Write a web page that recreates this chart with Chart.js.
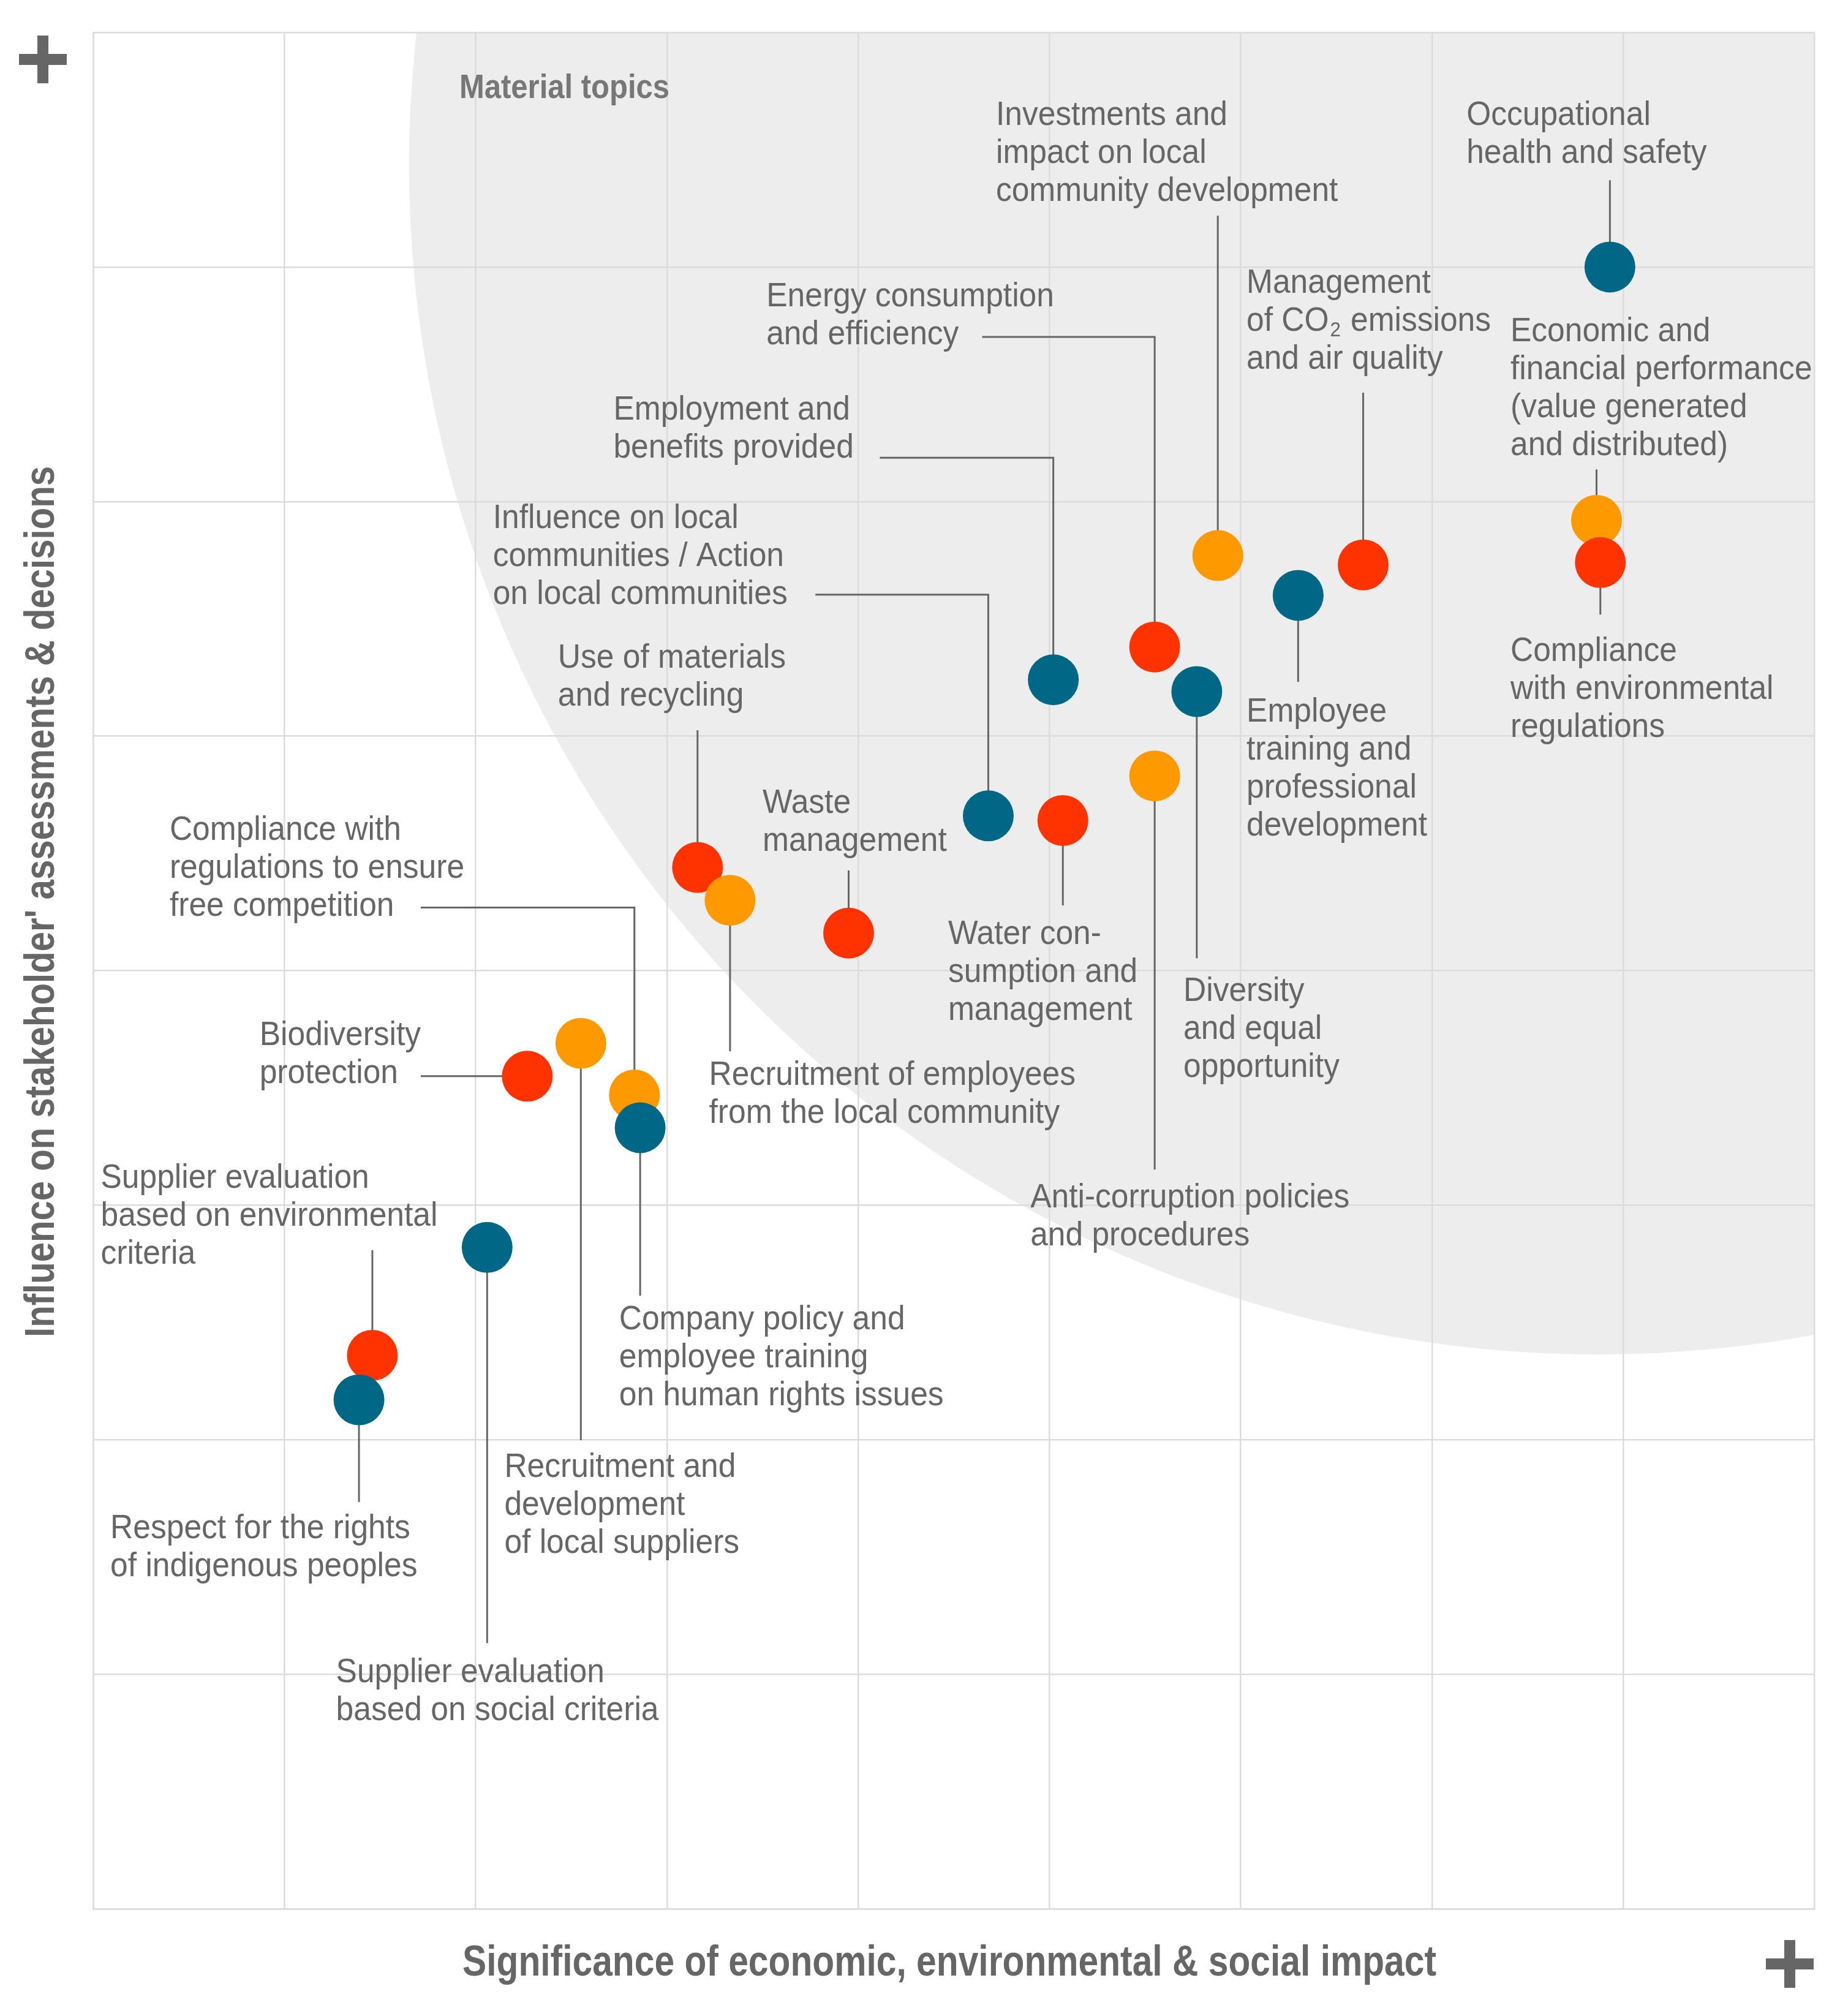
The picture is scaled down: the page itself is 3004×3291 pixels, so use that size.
<!DOCTYPE html>
<html>
<head>
<meta charset="utf-8">
<title>Material topics</title>
<script src="https://cdn.jsdelivr.net/npm/chart.js@4.4.1/dist/chart.umd.min.js"></script>
<style>
  html, body { margin: 0; padding: 0; background: #fff; }
  #wrap { width: 3004px; height: 3291px; }
</style>
</head>
<body>
<div id="wrap"><canvas id="matrix" width="3004" height="3291"></canvas></div>
<script>
// topics, in drawing order (later ones sit on top)
var topics = [
    "Occupational health and safety",
    "Economic and financial performance (value generated and distributed)",
    "Compliance with environmental regulations",
    "Management of CO₂ emissions and air quality",
    "Employee training and professional development",
    "Investments and impact on local community development",
    "Energy consumption and efficiency",
    "Diversity and equal opportunity",
    "Employment and benefits provided",
    "Anti-corruption policies and procedures",
    "Water consumption and management",
    "Influence on local communities / Action on local communities",
    "Waste management",
    "Use of materials and recycling",
    "Recruitment of employees from the local community",
    "Compliance with regulations to ensure free competition",
    "Company policy and employee training on human rights issues",
    "Recruitment and development of local suppliers",
    "Biodiversity protection",
    "Supplier evaluation based on social criteria",
    "Supplier evaluation based on environmental criteria",
    "Respect for the rights of indigenous peoples"
];
// significance of economic, environmental & social impact
var impact = [7.93, 7.86, 7.88, 6.64, 6.30, 5.88, 5.55, 5.77, 5.02, 5.55, 5.07,
              4.68, 3.95, 3.16, 3.33, 2.83, 2.86, 2.55, 2.27, 2.06, 1.46, 1.39];
// influence on stakeholder assessments & decisions
var influence = [7.00, 5.92, 5.74, 5.73, 5.60, 5.77, 5.38, 5.19, 5.24, 4.83, 4.64,
                 4.66, 4.16, 4.44, 4.30, 3.47, 3.33, 3.69, 3.55, 2.82, 2.36, 2.17];
var group = ["social", "economic", "environmental", "environmental", "social", "economic",
             "environmental", "social", "social", "economic", "environmental", "social",
             "environmental", "environmental", "economic", "economic", "social", "economic",
             "environmental", "social", "environmental", "social"];
var labelLines = [
    ["Occupational", "health and safety"],
    ["Economic and", "financial performance", "(value generated", "and distributed)"],
    ["Compliance", "with environmental", "regulations"],
    ["Management", "of CO₂ emissions", "and air quality"],
    ["Employee", "training and", "professional", "development"],
    ["Investments and", "impact on local", "community development"],
    ["Energy consumption", "and efficiency"],
    ["Diversity", "and equal", "opportunity"],
    ["Employment and", "benefits provided"],
    ["Anti-corruption policies", "and procedures"],
    ["Water con-", "sumption and", "management"],
    ["Influence on local", "communities / Action", "on local communities"],
    ["Waste", "management"],
    ["Use of materials", "and recycling"],
    ["Recruitment of employees", "from the local community"],
    ["Compliance with", "regulations to ensure", "free competition"],
    ["Company policy and", "employee training", "on human rights issues"],
    ["Recruitment and", "development", "of local suppliers"],
    ["Biodiversity", "protection"],
    ["Supplier evaluation", "based on social criteria"],
    ["Supplier evaluation", "based on environmental", "criteria"],
    ["Respect for the rights", "of indigenous peoples"]
];
var xTitle = "Significance of economic, environmental & social impact";
var yTitle = "Influence on stakeholder' assessments & decisions";
var zoneTitle = "Material topics";

// label layout, in axis units: first-line baseline of each label
var labelX = [7.18, 7.41, 7.41, 6.03, 6.03, 4.72, 3.52, 5.70, 2.72, 4.90, 4.47,
              2.09, 3.50, 2.43, 3.22, 0.40, 2.75, 2.15, 0.87, 1.27, 0.04, 0.09];
var labelY = [7.605, 6.683, 5.320, 6.890, 5.061, 7.605, 6.832, 3.870, 6.349, 2.990, 4.113,
              5.888, 4.672, 5.291, 3.513, 4.557, 2.471, 1.841, 3.682, 0.966, 3.074, 1.581];
// leader lines: vertical run ends at leaderY, optional horizontal run starts at leaderX
var leaderY = [7.370, 6.137, 5.518, 6.464, 5.231, 7.219, 6.702, 4.053, 6.187, 3.152, 4.278,
               5.603, 4.427, 5.025, 3.656, 4.269, 2.614, 1.998, 3.55, 1.133, 2.808, 1.734];
var leaderX = [null, null, null, null, null, null, 4.648, null, 4.113, null, null,
               3.776, null, null, null, 1.713, null, null, 1.713, null, null, null];

var zoneCenter = [7.868, 7.433];
var zoneRadius = 6.216; // in impact units

var groupColors = { social: "#006786", economic: "#ff9900", environmental: "#ff3300" };
var textColor = "#666666";
var labelFont = "56px 'Liberation Sans', Arial, sans-serif";
var subFont = "34px 'Liberation Sans', Arial, sans-serif";
var labelStretch = 0.92;
var lineGap = 62;

function drawLabelLine(ctx, text, x, y) {
    ctx.save();
    ctx.translate(x, y);
    ctx.scale(labelStretch, 1);
    var parts = text.split("₂");
    var cx = 0;
    for (var i = 0; i < parts.length; i++) {
        ctx.font = labelFont;
        ctx.fillText(parts[i], cx, 0);
        cx += ctx.measureText(parts[i]).width;
        if (i < parts.length - 1) {
            ctx.font = subFont;
            ctx.fillText("2", cx + 2, 9);
            cx += ctx.measureText("2").width + 4;
        }
    }
    ctx.restore();
}

function drawSquished(ctx, text, font, targetWidth) {
    ctx.font = font;
    var w = ctx.measureText(text).width;
    ctx.scale(targetWidth / w, 1);
    ctx.fillText(text, 0, 0);
}

var matrixPlugin = {
    id: "matrix",
    beforeDraw: function (chart) {
        var ctx = chart.ctx, area = chart.chartArea;
        var xs = chart.scales.x, ys = chart.scales.y;
        var cx = xs.getPixelForValue(zoneCenter[0]);
        var cy = ys.getPixelForValue(zoneCenter[1]);
        var r = xs.getPixelForValue(zoneCenter[0] + zoneRadius) - cx;
        ctx.save();
        ctx.beginPath();
        ctx.rect(area.left, area.top, area.right - area.left, area.bottom - area.top);
        ctx.clip();
        ctx.beginPath();
        ctx.arc(cx, cy, r, 0, Math.PI * 2);
        ctx.fillStyle = "#ededed";
        ctx.fill();
        ctx.restore();
    },
    beforeDatasetsDraw: function (chart) {
        var ctx = chart.ctx;
        var xs = chart.scales.x, ys = chart.scales.y;
        ctx.save();
        ctx.strokeStyle = textColor;
        ctx.lineWidth = 3;
        for (var i = 0; i < topics.length; i++) {
            var px = xs.getPixelForValue(impact[i]);
            var py = ys.getPixelForValue(influence[i]);
            var ly = ys.getPixelForValue(leaderY[i]);
            ctx.beginPath();
            if (leaderX[i] !== null) {
                ctx.moveTo(xs.getPixelForValue(leaderX[i]), ly);
                ctx.lineTo(px, ly);
            } else {
                ctx.moveTo(px, ly);
            }
            ctx.lineTo(px, py);
            ctx.stroke();
        }
        ctx.restore();
    },
    afterDraw: function (chart) {
        var ctx = chart.ctx, area = chart.chartArea;
        var xs = chart.scales.x, ys = chart.scales.y;
        ctx.save();
        ctx.fillStyle = textColor;
        ctx.textAlign = "left";
        ctx.textBaseline = "alphabetic";
        for (var i = 0; i < topics.length; i++) {
            var tx = xs.getPixelForValue(labelX[i]);
            var ty = ys.getPixelForValue(labelY[i]);
            for (var j = 0; j < labelLines[i].length; j++) {
                drawLabelLine(ctx, labelLines[i][j], tx, ty + j * lineGap);
            }
        }
        // zone title
        ctx.save();
        ctx.fillStyle = "#777777";
        ctx.translate(area.left + 598, area.top + 107);
        drawSquished(ctx, zoneTitle, "bold 56px 'Liberation Sans', Arial, sans-serif", 343);
        ctx.restore();
        // x axis title
        ctx.save();
        ctx.translate(area.left + 603, area.bottom + 109);
        drawSquished(ctx, xTitle, "bold 71px 'Liberation Sans', Arial, sans-serif", 1590);
        ctx.restore();
        // y axis title
        ctx.save();
        ctx.translate(area.left - 64, 2183);
        ctx.rotate(-Math.PI / 2);
        drawSquished(ctx, yTitle, "bold 68px 'Liberation Sans', Arial, sans-serif", 1422);
        ctx.restore();
        // plus marks at the high ends of both axes
        ctx.fillRect(31, 88, 78, 18);
        ctx.fillRect(61, 58, 18, 78);
        ctx.fillRect(2883, 3197, 78, 18);
        ctx.fillRect(2913, 3167, 18, 78);
        ctx.restore();
    }
};

var points = [];
for (var i = 0; i < topics.length; i++) {
    points.push({ x: impact[i], y: influence[i] });
}

var chart = new Chart(document.getElementById("matrix"), {
    type: "scatter",
    data: {
        datasets: [{
            label: "Material topics",
            data: points,
            backgroundColor: group.map(function (g) { return groupColors[g]; }),
            borderWidth: 0,
            pointRadius: 41.5,
            pointHoverRadius: 41.5
        }]
    },
    options: {
        responsive: false,
        animation: false,
        devicePixelRatio: 1,
        events: [],
        layout: { padding: { left: 152, right: 29, top: 53, bottom: 175 } },
        plugins: {
            legend: { display: false },
            tooltip: { enabled: false }
        },
        scales: {
            x: {
                type: "linear",
                min: 0,
                max: 9,
                ticks: { display: false, stepSize: 1 },
                grid: { color: "#dcdcdc", lineWidth: 2.5, drawTicks: false },
                border: { display: true, color: "#dcdcdc", width: 2.5 }
            },
            y: {
                type: "linear",
                min: 0,
                max: 8,
                ticks: { display: false, stepSize: 1 },
                grid: { color: "#dcdcdc", lineWidth: 2.5, drawTicks: false },
                border: { display: true, color: "#dcdcdc", width: 2.5 }
            }
        }
    },
    plugins: [matrixPlugin]
});
</script>
</body>
</html>
